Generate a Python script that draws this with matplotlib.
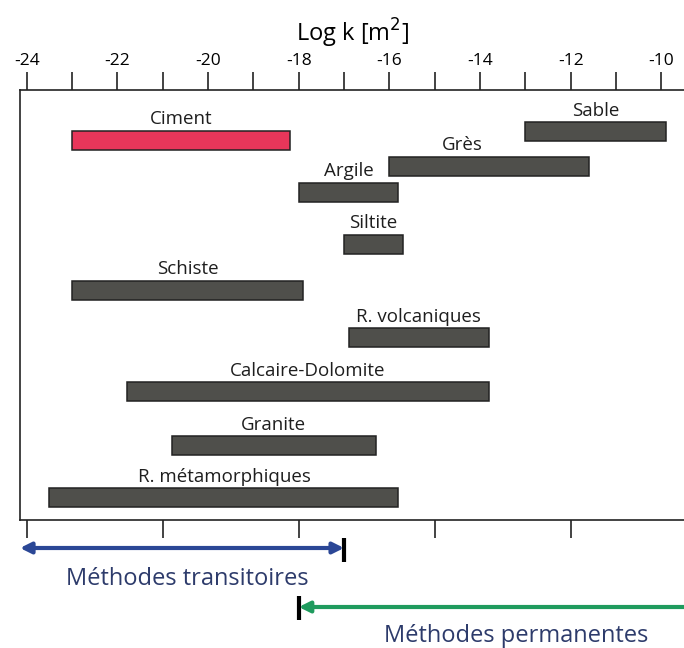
import matplotlib
matplotlib.use('Agg')
from matplotlib import pyplot as plt

# permeability ranges, log10 k [m2]
materials = ['Ciment', 'Sable', 'Grès', 'Argile', 'Siltite', 'Schiste',
             'R. volcaniques', 'Calcaire-Dolomite', 'Granite', 'R. métamorphiques']
k_min = [-23.0, -13.0, -16.0, -18.0, -17.0, -23.0, -16.9, -21.8, -20.8, -23.5]
k_max = [-18.2, -9.9, -11.6, -15.8, -15.7, -17.9, -13.8, -13.8, -16.3, -15.8]
rows = [140, 131, 166, 192, 244, 290, 337, 391, 445, 497]

# measurement method domains
transient_range = [-24.15, -17.0]
steady_range = [-18.0, -9.5]

font = ['Open Sans', 'DejaVu Sans']
plt.rcParams['font.family'] = font

bar_h = 19
bar_grey = '#4f4f4b'
ciment_red = '#e8365a'

fig = plt.figure(figsize=(6.84, 6.48), dpi=100)
ax = fig.add_axes([20 / 684, (648 - 520) / 648, 664 / 684, 430 / 648])

for name, lo, hi, y in zip(materials, k_min, k_max, rows):
    color = ciment_red if name == 'Ciment' else bar_grey
    ax.barh(y, hi - lo, left=lo, height=bar_h, color=color,
            edgecolor='#222222', linewidth=1.1)
    xc = (lo + hi) / 2
    if name == 'Grès':
        xc -= 0.6
    ax.text(xc, y - bar_h / 2 - 6, name, ha='center', va='baseline',
            fontsize=13.5, color='#1e1e1e')

ax.set_xlim(-24.15, -9.5)
ax.set_ylim(520, 90)
ax.set_yticks([])

# top axis with labels
ax.xaxis.set_ticks_position('top')
ax.xaxis.set_label_position('top')
ax.set_xticks(range(-24, -9, 2))
ax.set_xticklabels([str(v) for v in range(-24, -9, 2)])
ax.set_xticks(range(-23, -9, 2), minor=True)
ax.tick_params(axis='x', which='both', direction='out', length=13,
               width=1.2, labelsize=12.5, pad=2, color='#222222')
ax.set_xlabel('Log k [m$^2$]', fontsize=17, labelpad=8)

# bottom ticks without labels
sec = ax.secondary_xaxis('bottom')
sec.set_xticks(range(-24, -11, 3))
sec.set_xticklabels([])
sec.tick_params(direction='out', length=13, width=1.2, color='#222222')
sec.spines['bottom'].set_visible(False)

ax.spines['right'].set_visible(False)
for s in ['top', 'bottom', 'left']:
    ax.spines[s].set_linewidth(1.2)
    ax.spines[s].set_color('#222222')

blue = '#2b4796'
green = '#1f9b5e'
text_blue = '#2d3b6b'

ax.annotate('', xy=(transient_range[0], 548), xytext=(transient_range[1], 548),
            arrowprops=dict(arrowstyle='<|-|>', color=blue, lw=3,
                            mutation_scale=16, shrinkA=0, shrinkB=0),
            annotation_clip=False)
ax.plot([transient_range[1]] * 2, [538, 562], color='black', lw=3,
        clip_on=False, solid_capstyle='butt')
ax.text(-20.45, 579, 'Méthodes transitoires', ha='center',
        va='center', fontsize=17, color=text_blue)

ax.annotate('', xy=(steady_range[0], 607), xytext=(steady_range[1], 607),
            arrowprops=dict(arrowstyle='-|>', color=green, lw=3,
                            mutation_scale=16, shrinkA=0, shrinkB=0),
            annotation_clip=False)
ax.plot([steady_range[0]] * 2, [596, 620], color='black', lw=3,
        clip_on=False, solid_capstyle='butt')
ax.text(-13.2, 636, 'Méthodes permanentes', ha='center', va='center',
        fontsize=17, color=text_blue)

fig.savefig('out.png', dpi=100)
